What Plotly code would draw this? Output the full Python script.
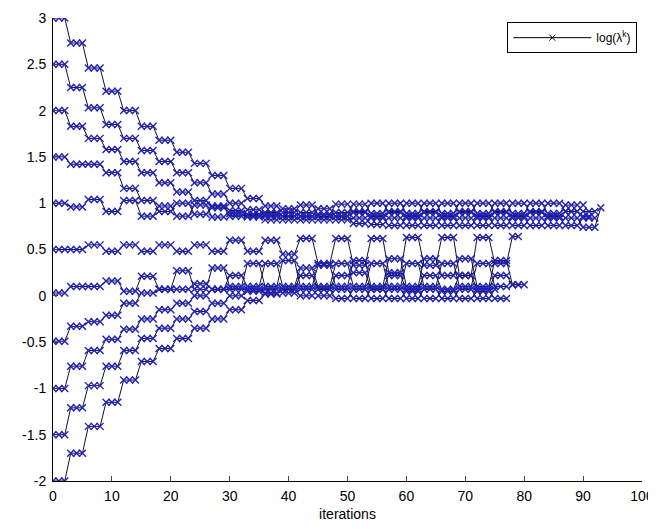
import plotly.graph_objects as go

# Iterations per plateau level (each level is held for 3 iterations in the picture)
STEP = 3

# Plateau levels, one entry per 3 iterations
line_a = [3.0, 2.73, 2.46, 2.21, 2.0, 1.83, 1.68, 1.55, 1.43, 1.30, 1.16, 1.05, 0.97,
          0.90, 0.98, 0.88, 0.99, 0.90, 1.0, 0.90, 1.0, 0.90, 1.0, 0.90, 1.0, 0.90,
          1.0, 0.90, 1.0, 0.91, 0.98]
line_b = [2.5, 2.25, 2.03, 1.85, 1.70, 1.57, 1.45, 1.33, 1.22, 1.10, 1.0, 0.93, 0.88,
          0.94, 0.86, 0.94, 0.86, 0.99, 0.89, 1.0, 0.89, 1.0, 0.89, 1.0, 0.89, 1.0,
          0.89, 1.0, 0.89, 0.98, 0.91]
line_c = [2.0, 1.83, 1.70, 1.58, 1.45, 1.33, 1.22, 1.12, 1.03, 0.95, 0.89, 0.85, 0.86,
          0.82, 0.86, 0.82, 0.86, 0.78, 0.84, 0.76, 0.84, 0.76, 0.84, 0.76, 0.84, 0.76,
          0.84, 0.76, 0.84, 0.76, 0.84]
line_d = [1.5, 1.42, 1.42, 1.33, 1.16, 1.03, 0.91, 1.0, 0.88, 0.97, 0.86, 0.88, 0.82,
          0.86, 0.82, 0.86, 0.82, 0.84, 0.77, 0.84, 0.76, 0.84, 0.76, 0.84, 0.76, 0.84,
          0.76, 0.84, 0.76, 0.84, 0.74, 0.95]
line_e = [1.0, 0.96, 1.04, 0.91, 1.03, 0.86, 0.97, 0.86, 0.98, 0.85, 0.92, 0.87, 0.90,
          0.86, 0.90, 0.86, 0.90, 0.91, 0.86, 0.91, 0.86, 0.91, 0.86, 0.91, 0.86, 0.91,
          0.86, 0.91, 0.86, 0.91, 0.86]
line_f = [0.5, 0.5, 0.55, 0.48, 0.55, 0.48, 0.55, 0.48, 0.55, 0.48,
          0.60, 0.48, 0.60, 0.45, 0.62, 0.35, 0.62, 0.33, 0.62, 0.25, 0.63, 0.33, 0.63,
          0.22, 0.63, 0.35, 0.64]
line_g = [0.03, 0.10, 0.10, 0.16, 0.05, 0.21, 0.07, 0.27, 0.07, 0.30,
          0.10, 0.35, 0.10, 0.38, 0.10, 0.33, 0.10, 0.38, 0.10, 0.40, 0.10, 0.40, 0.22,
          0.40, 0.10, 0.38, 0.12]
line_h = [-0.49, -0.33, -0.28, -0.21, -0.08, 0.03, 0.07, 0.07, 0.13, 0.07,
          0.22, 0.10, 0.35, 0.10, 0.30, 0.10, 0.35, 0.10, 0.35, 0.10, 0.35, 0.10, 0.35,
          0.10, 0.35, 0.10, 0.20]
line_i = [-1.0, -0.76, -0.59, -0.47, -0.36, -0.25, -0.15, -0.08, 0.0, 0.07,
          0.07, 0.07, 0.03, 0.07, 0.22, 0.07, 0.22, 0.25, 0.07, 0.22, 0.07, 0.22, 0.07,
          0.22, 0.07, 0.22, 0.12]
line_j = [-1.5, -1.21, -0.97, -0.76, -0.59, -0.46, -0.35, -0.25, -0.17, -0.08,
          0.0, 0.05, 0.07, 0.03, 0.07, 0.0, 0.07, -0.03, 0.07, -0.03, 0.05, -0.03, 0.05,
          -0.03, 0.05, -0.03, 0.10]
line_k = [-2.0, -1.70, -1.41, -1.15, -0.91, -0.71, -0.57, -0.46, -0.35, -0.25,
          -0.15, -0.05, 0.02, 0.07, 0.0, 0.07, -0.03, 0.07, -0.03, 0.07, -0.03, 0.07,
          -0.03, 0.07, -0.03, 0.07, 0.12]

all_lines = [line_a, line_b, line_c, line_d, line_e, line_f, line_g, line_h, line_i, line_j, line_k]
# number of iterations recorded for each line
n_iters = [91, 93, 93, 94, 92, 80, 81, 78, 80, 78, 76]

x_ticks = [0, 10, 20, 30, 40, 50, 60, 70, 80, 90, 100]
y_ticks = [-2, -1.5, -1, -0.5, 0, 0.5, 1, 1.5, 2, 2.5, 3]
y_tick_text = ["-2", "-1.5", "-1", "-0.5", "0", "0.5", "1", "1.5", "2", "2.5", "3"]

fig = go.Figure()
for levels, n in zip(all_lines, n_iters):
    ys = [v for v in levels for _ in range(STEP)][:n]
    xs = list(range(len(ys)))
    fig.add_trace(go.Scatter(
        x=xs, y=ys, mode="lines+markers", showlegend=False,
        line=dict(color="#101030", width=1),
        marker=dict(symbol="x-thin", size=7, line=dict(color="#2222b8", width=1.4)),
        hoverinfo="skip"))

# legend entry
fig.add_trace(go.Scatter(
    x=[None], y=[None], mode="lines+markers", name="log(λ<sup>k</sup>)",
    line=dict(color="black", width=1),
    marker=dict(symbol="x-thin", size=6, line=dict(color="black", width=1))))

font_family = "Liberation Sans, Arial, sans-serif"
# the page body adds an 8px offset, so the figure is sized to fit the 656x529 window
fig.update_layout(
    width=648, height=521,
    margin=dict(l=45, r=14, t=10, b=48),
    paper_bgcolor="white", plot_bgcolor="white",
    font=dict(family=font_family, size=14, color="black"),
    xaxis=dict(range=[0, 100], tickvals=x_ticks, ticks="inside", ticklen=5,
               showgrid=False, zeroline=False, showline=True, linecolor="black",
               linewidth=1, mirror=False, tickfont=dict(size=14), automargin=False,
               ticklabelstandoff=2,
               title=dict(text="iterations", font=dict(size=14), standoff=6)),
    yaxis=dict(range=[-2, 3], tickvals=y_ticks, ticktext=y_tick_text, ticks="inside",
               ticklen=5, showgrid=False, zeroline=False, showline=True,
               linecolor="black", linewidth=1, mirror=False, tickfont=dict(size=14),
               automargin=False, ticklabelstandoff=3),
    legend=dict(x=0.992, y=0.991, xanchor="right", yanchor="top",
                bordercolor="black", borderwidth=1, bgcolor="white",
                font=dict(size=12), itemwidth=78),
)

fig.write_html("out.html")
